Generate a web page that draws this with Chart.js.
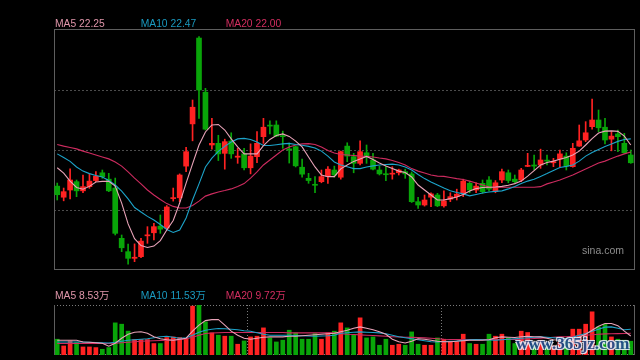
<!DOCTYPE html>
<html><head><meta charset="utf-8">
<script src="https://cdn.jsdelivr.net/npm/chart.js@4/dist/chart.umd.min.js"></script>
<style>
html,body{margin:0;padding:0;background:#000;width:640px;height:360px;overflow:hidden;position:relative;}
canvas{position:absolute;left:0;}
#k{top:0;}
#v{top:280px;}
#wm{position:absolute;left:516px;top:334px;font:bold 17px "Liberation Serif","DejaVu Serif",serif;color:#24508e;opacity:0.92;
text-shadow:-1px -1px 0 #e8eef8,1px -1px 0 #e8eef8,-1px 1px 0 #e8eef8,1px 1px 0 #e8eef8,0 0 2px #fff;letter-spacing:0px;white-space:nowrap;}
</style></head><body>
<canvas id="k" width="640" height="275"></canvas>
<canvas id="v" width="640" height="80"></canvas>
<div id="wm">www.365jz.com</div>
<script>
const days = [1,2,3,4,5,6,7,8,9,10,11,12,13,14,15,16,17,18,19,20,21,22,23,24,25,26,27,28,29,30,31,32,33,34,35,36,37,38,39,40,41,42,43,44,45,46,47,48,49,50,51,52,53,54,55,56,57,58,59,60,61,62,63,64,65,66,67,68,69,70,71,72,73,74,75,76,77,78,79,80,81,82,83,84,85,86,87,88,89,90];
const open = [20.77,20.37,20.63,20.93,20.60,20.75,20.97,21.25,21.02,20.70,18.89,18.41,18.17,18.23,18.98,19.09,19.33,19.26,20.32,20.35,21.49,23.01,26.10,24.15,22.25,22.31,21.95,22.39,21.81,21.93,21.43,21.83,22.55,22.96,22.97,22.57,22.11,22.19,21.45,21.05,20.83,20.93,21.13,21.35,21.09,22.21,21.83,21.59,21.97,21.71,21.35,21.21,21.20,21.25,21.29,21.21,20.21,20.09,20.37,20.45,20.06,20.30,20.39,20.53,20.87,20.63,20.87,20.99,20.57,20.99,21.25,21.02,20.99,21.48,21.53,21.53,21.69,21.61,21.74,21.85,21.47,22.21,22.43,22.91,23.15,22.89,22.46,22.65,22.31,21.89];
const high = [20.88,20.70,21.39,20.99,21.17,21.21,21.29,21.35,21.23,21.06,19.01,18.68,18.69,18.89,19.31,19.43,19.73,20.07,20.70,21.21,22.17,23.87,26.15,24.29,23.21,22.60,22.46,22.69,22.13,22.13,22.29,22.73,23.21,23.12,23.12,22.75,22.32,22.21,21.74,21.23,21.11,21.35,21.47,21.49,22.03,22.33,21.95,22.40,22.25,21.95,21.49,21.47,21.47,21.38,21.38,21.28,20.37,20.45,20.53,20.51,20.60,20.53,20.66,21.02,20.93,20.89,20.99,21.11,20.97,21.38,21.35,21.17,21.41,21.95,21.89,22.10,21.89,21.77,22.07,21.97,22.31,22.97,23.09,23.90,23.51,23.21,22.73,22.79,22.67,22.07];
const low = [20.27,20.24,20.31,20.39,20.53,20.69,20.93,21.05,20.57,19.01,18.41,17.96,18.05,18.19,18.71,18.83,19.07,19.19,20.23,20.21,21.29,22.40,23.21,22.79,22.10,21.69,21.38,21.77,21.59,21.35,21.21,21.61,22.31,22.65,22.55,22.13,21.60,21.46,21.09,20.87,20.53,20.89,20.87,21.09,21.02,21.65,21.25,21.53,21.59,21.35,21.17,20.97,21.02,21.17,21.05,20.18,19.97,20.05,20.03,20.03,20.01,20.21,20.27,20.39,20.53,20.53,20.51,20.60,20.53,20.89,20.89,20.87,20.93,21.47,21.35,21.41,21.53,21.47,21.47,21.35,21.45,22.20,22.37,22.82,22.73,22.29,22.04,22.01,21.95,21.59];
const close = [20.46,20.57,20.99,20.60,20.75,20.95,21.13,21.11,20.60,19.07,18.55,18.17,18.21,18.79,19.01,19.31,19.22,20.02,20.35,21.17,22.01,23.61,24.23,22.82,22.31,21.93,22.37,21.93,21.85,21.43,21.85,22.31,22.89,22.93,22.57,22.55,22.07,21.50,21.20,20.97,20.80,21.11,21.38,21.17,22.01,21.85,21.59,22.01,21.85,21.38,21.21,21.18,21.22,21.35,21.21,20.21,20.09,20.27,20.49,20.06,20.24,20.39,20.48,20.95,20.63,20.77,20.57,20.66,20.89,21.29,20.97,20.93,21.35,21.50,21.49,21.71,21.67,21.65,21.93,21.49,22.13,22.40,22.69,23.15,22.87,22.43,22.57,22.55,21.97,21.61];
const ma5 = [21.43,21.24,20.95,20.72,20.66,20.76,20.92,20.94,20.94,20.77,20.16,19.41,18.88,18.63,18.56,18.61,18.81,19.19,19.53,20.16,20.88,21.57,22.25,22.72,22.97,22.99,22.79,22.47,22.18,21.93,21.93,21.93,22.23,22.45,22.59,22.65,22.56,22.39,22.18,21.82,21.46,21.17,21.11,21.11,21.39,21.53,21.66,21.75,21.84,21.73,21.60,21.49,21.40,21.31,21.26,21.10,20.81,20.63,20.45,20.27,20.27,20.32,20.38,20.47,20.59,20.68,20.72,20.73,20.74,20.76,20.80,20.86,20.95,21.13,21.33,21.53,21.62,21.67,21.74,21.80,21.89,22.03,22.25,22.48,22.68,22.75,22.76,22.74,22.57,22.25];
const ma10 = [21.93,21.80,21.66,21.46,21.31,21.22,21.15,21.10,20.97,20.81,20.59,20.31,20.00,19.84,19.68,19.55,19.39,19.21,19.10,19.19,19.62,20.27,20.85,21.46,21.78,22.02,22.20,22.36,22.47,22.49,22.45,22.36,22.23,22.23,22.26,22.29,22.31,22.27,22.24,22.20,22.14,22.03,21.85,21.64,21.53,21.47,21.40,21.40,21.46,21.50,21.53,21.55,21.56,21.53,21.46,21.35,21.19,21.04,20.92,20.81,20.70,20.60,20.54,20.49,20.42,20.47,20.52,20.56,20.58,20.60,20.67,20.76,20.86,20.95,21.02,21.12,21.22,21.33,21.44,21.48,21.53,21.67,21.85,21.98,22.09,22.20,22.29,22.38,22.45,22.47];
const ma20 = [22.27,22.21,22.16,22.11,22.03,21.96,21.89,21.82,21.75,21.64,21.49,21.28,21.06,20.85,20.63,20.45,20.29,20.14,20.04,19.98,19.98,20.07,20.23,20.41,20.49,20.56,20.61,20.67,20.76,20.86,21.06,21.28,21.53,21.71,21.89,22.07,22.18,22.25,22.29,22.30,22.27,22.18,22.05,21.96,21.91,21.89,21.87,21.85,21.84,21.82,21.78,21.75,21.69,21.62,21.53,21.40,21.31,21.24,21.17,21.13,21.12,21.08,21.04,21.01,20.95,20.88,20.81,20.74,20.73,20.73,20.73,20.73,20.73,20.73,20.73,20.75,20.85,20.92,20.99,21.08,21.17,21.28,21.39,21.49,21.60,21.67,21.76,21.85,21.93,22.00];
const volume = [7.07,4.05,6.30,5.58,3.60,3.60,3.33,2.57,3.33,14.40,13.80,10.70,6.93,6.93,6.93,5.13,5.13,7.83,8.10,7.83,7.38,21.90,22.40,14.85,9.90,8.87,8.42,8.42,4.82,6.30,8.10,8.42,12.15,7.65,5.85,6.62,11.10,9.90,7.07,7.07,9.63,7.07,9.90,10.67,14.40,12.15,8.87,16.65,7.65,8.10,4.37,7.07,4.37,4.82,4.37,10.35,4.82,4.37,4.37,7.65,7.07,5.85,5.85,9.32,5.13,4.82,4.82,9.32,8.42,9.32,7.65,5.13,10.67,10.08,4.37,6.62,4.05,4.05,5.72,6.62,11.57,11.57,13.80,19.35,12.60,13.68,8.10,7.07,6.62,6.17];
const vma5 = [6.62,6.62,6.62,6.62,5.85,5.72,5.49,5.27,3.92,5.27,7.52,9.32,10.22,10.44,9.77,8.19,7.29,6.84,6.62,7.07,7.52,10.67,13.37,15.39,15.84,15.93,13.37,10.67,8.87,7.52,7.07,7.52,7.97,8.10,8.10,8.10,8.42,8.42,8.64,8.87,9.09,9.32,9.54,9.77,10.44,11.12,12.02,12.60,12.02,11.34,10.44,9.32,7.07,5.94,5.40,6.17,7.29,7.07,6.62,6.17,5.94,5.94,6.17,6.39,6.62,6.62,6.62,6.84,7.74,8.10,7.97,7.83,8.19,8.42,8.19,8.10,7.52,6.84,6.62,6.62,6.62,7.97,9.32,11.12,12.92,14.13,14.13,13.14,10.67,8.53];
const vma10 = [5.85,5.85,5.85,5.85,5.85,5.72,5.58,5.49,5.40,5.72,6.17,6.62,6.84,7.07,7.29,7.74,8.19,8.42,7.97,7.52,7.74,8.87,10.22,11.12,11.57,11.88,11.79,11.57,11.34,10.89,10.67,9.99,9.32,8.87,8.87,8.87,8.87,8.73,8.64,8.51,8.42,8.51,8.64,8.87,9.77,9.99,10.22,10.35,10.22,10.08,9.90,9.54,8.87,8.19,7.74,7.29,6.84,6.39,5.94,5.85,6.03,6.17,6.30,6.62,6.84,6.93,6.84,6.71,6.62,6.84,7.07,7.29,7.52,7.74,7.97,8.10,7.97,7.74,7.52,7.38,7.97,8.87,9.63,10.67,11.57,12.47,12.60,12.02,11.34,11.53];
const vma20 = [5.13,5.13,5.13,5.13,5.13,5.13,5.13,5.13,5.13,5.27,5.49,5.72,5.94,6.17,6.30,6.39,6.48,6.62,6.71,6.84,7.29,7.97,8.87,9.63,9.86,9.99,10.08,10.08,10.08,10.08,10.08,10.08,10.08,10.08,10.08,10.08,9.90,9.90,9.90,9.90,9.90,9.90,9.90,9.90,9.54,9.32,9.18,9.00,8.87,8.73,8.55,8.42,8.19,8.10,7.97,7.88,7.79,7.65,7.52,7.29,7.07,6.93,6.93,6.93,6.93,6.93,6.93,6.93,6.93,6.93,6.93,6.93,7.07,7.20,7.38,7.52,7.74,7.97,8.10,8.19,8.42,8.64,8.87,9.09,9.32,9.45,9.54,9.59,9.63,9.72];
const priceGrid = [19.91, 22.07, 24.23];
const priceRange = [17.75, 26.39];
const volumeRange = [0, 22.4];
const segmentStarts = [30, 60];
const legendMain = ['MA5 22.25', 'MA10 22.47', 'MA20 22.00'];
const legendVol = ['MA5 8.53万', 'MA10 11.53万', 'MA20 9.72万'];

const UP = '#ff2222', DOWN = '#09a509';
const C5 = '#e9a3b8', C10 = '#1ca3c9', C20 = '#cd2b5f';
const T5 = '#e096aa', T10 = '#1a9ac0', T20 = '#d32e60';
const FONT = '10.3px "Liberation Sans", "Noto Sans CJK SC", Arial, sans-serif';

const colors = close.map((c, i) => c >= open[i] ? UP : DOWN);
const wicks = low.map((l, i) => [l, high[i]]);
const bodies = open.map((o, i) => [o, close[i]]);

function lineDs(label, data, color) {
  return {type: 'line', label, data, borderColor: color, borderWidth: 1.1, pointRadius: 0, tension: 0, fill: false, order: 0};
}
function drawLegend(ctx, items, cols, xs, base) {
  ctx.font = FONT; ctx.textBaseline = 'alphabetic'; ctx.textAlign = 'left';
  items.forEach((t, i) => { ctx.fillStyle = cols[i]; ctx.fillText(t, xs[i], base); });
}

const mainFrame = {
  id: 'mainFrame',
  beforeDatasetsDraw(chart) {
    const {ctx, chartArea: a, scales: {y}} = chart;
    ctx.save();
    ctx.lineWidth = 1;
    ctx.strokeStyle = '#4c4c4c';
    ctx.setLineDash([2, 2]);
    priceGrid.forEach(v => {
      const py = Math.round(y.getPixelForValue(v)) + 0.5;
      ctx.beginPath(); ctx.moveTo(a.left, py); ctx.lineTo(a.right, py); ctx.stroke();
    });
    ctx.setLineDash([]);
    ctx.strokeStyle = '#5e5e5e';
    ctx.strokeRect(a.left + 0.5, a.top - 0.5, a.right - a.left, a.bottom - a.top);
    ctx.font = '10.5px "Liberation Sans", Arial, sans-serif';
    ctx.fillStyle = '#8c8c8c';
    ctx.fillText('sina.com', a.right - 52, a.bottom - 16.5);
    drawLegend(ctx, legendMain, [T5, T10, T20], [55, 140.7, 225.7], 27.3);
    ctx.restore();
  }
};

const volFrame = {
  id: 'volFrame',
  beforeDatasetsDraw(chart) {
    const {ctx, chartArea: a, scales: {x}} = chart;
    ctx.save();
    ctx.lineWidth = 1;
    ctx.strokeStyle = '#7a7a7a';
    ctx.setLineDash([1, 2]);
    [a.top + 0.5, a.bottom - 0.5].forEach(py => {
      ctx.beginPath(); ctx.moveTo(a.left, py); ctx.lineTo(a.right, py); ctx.stroke();
    });
    segmentStarts.forEach(i => {
      const px = Math.round((x.getPixelForValue(i - 1) + x.getPixelForValue(i)) / 2) + 0.5;
      ctx.beginPath(); ctx.moveTo(px, a.top); ctx.lineTo(px, a.bottom); ctx.stroke();
    });
    ctx.setLineDash([]);
    ctx.strokeStyle = '#5e5e5e';
    [a.left + 0.5, a.right + 0.5].forEach(px => {
      ctx.beginPath(); ctx.moveTo(px, a.top); ctx.lineTo(px, a.bottom); ctx.stroke();
    });
    drawLegend(ctx, legendVol, [T5, T10, T20], [55, 140.7, 225.7], 19);
    ctx.restore();
  }
};

const common = {
  responsive: false, animation: false, devicePixelRatio: 1, events: [],
  plugins: {legend: {display: false}, tooltip: {enabled: false}}
};

new Chart(document.getElementById('k'), {
  type: 'bar',
  data: {labels: days, datasets: [
    lineDs('MA5', ma5, C5), lineDs('MA10', ma10, C10), lineDs('MA20', ma20, C20),
    {label: 'wick', data: wicks, backgroundColor: colors, barThickness: 1, grouped: false, order: 2, borderWidth: 0},
    {label: 'body', data: bodies, backgroundColor: colors, barThickness: 5, minBarLength: 1, grouped: false, order: 1, borderWidth: 0}
  ]},
  options: Object.assign({}, common, {
    layout: {padding: {left: 54, right: 6, top: 30, bottom: 5}},
    scales: {x: {display: false, offset: true}, y: {display: false, min: priceRange[0], max: priceRange[1]}}
  }),
  plugins: [mainFrame]
});

new Chart(document.getElementById('v'), {
  type: 'bar',
  data: {labels: days, datasets: [
    lineDs('MA5', vma5, C5), lineDs('MA10', vma10, C10), lineDs('MA20', vma20, C20),
    {label: 'vol', data: volume, backgroundColor: colors, barThickness: 4, order: 1, borderWidth: 0}
  ]},
  options: Object.assign({}, common, {
    layout: {padding: {left: 54, right: 6, top: 25, bottom: 5}},
    scales: {x: {display: false, offset: true}, y: {display: false, min: volumeRange[0], max: volumeRange[1]}}
  }),
  plugins: [volFrame]
});
</script>
</body></html>
